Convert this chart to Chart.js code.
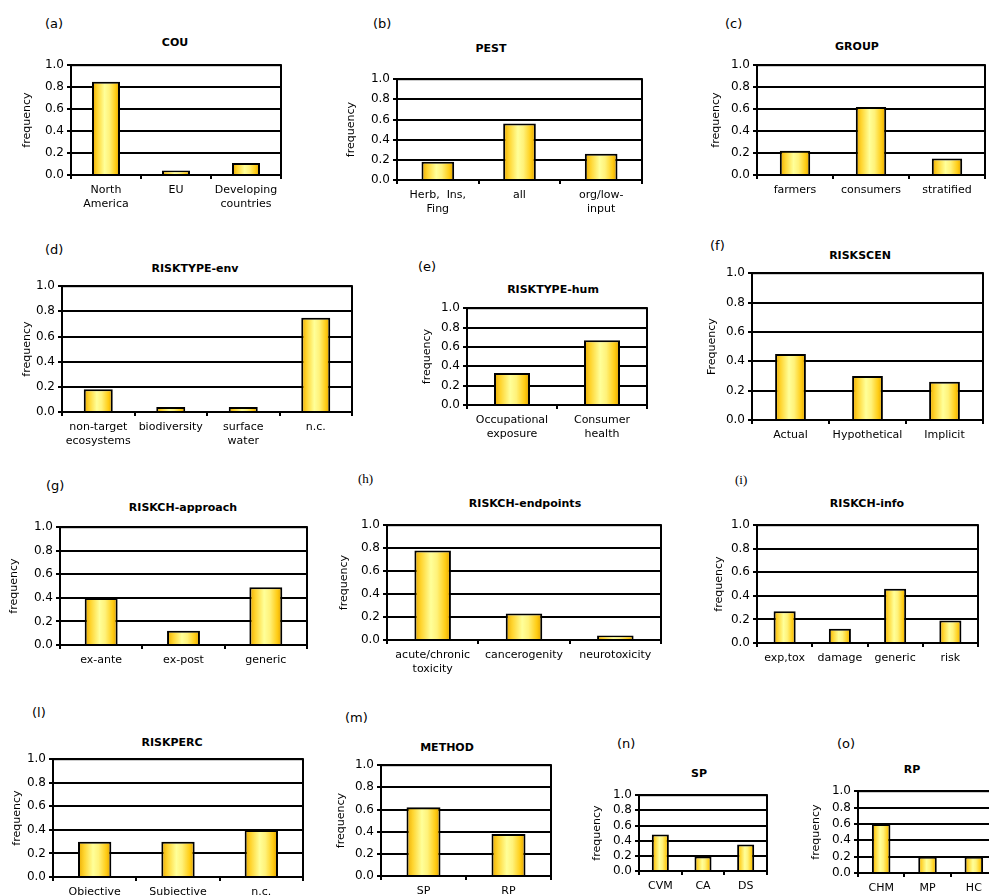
<!DOCTYPE html>
<html>
<head>
<meta charset="utf-8">
<script src="https://cdn.jsdelivr.net/npm/chart.js@4.4.1/dist/chart.umd.min.js"></script>
<style>
  html, body { margin: 0; padding: 0; background: #fff; overflow: hidden; width: 989px; height: 895px; }
  #page { position: relative; width: 989px; height: 895px; overflow: hidden; }
  #page canvas { position: absolute; }
  .tag { position: absolute; font: 13px "DejaVu Sans", Verdana, sans-serif; color: #000; line-height: 1; transform: translateY(-50%); white-space: nowrap; }
  .tag.serif { font: 13px "Liberation Serif", "DejaVu Serif", serif; color: #000; }
  .ttl { position: absolute; font: bold 11px "DejaVu Sans", Verdana, sans-serif; color: #000; line-height: 1; transform: translate(-50%, -50%); white-space: nowrap; }
</style>
</head>
<body>
<div id="page"></div>
<script>
// ---- data (frequencies) ----
const couLabels = [['North', 'America'], 'EU', ['Developing', 'countries']];
const couValues = [0.85, 0.04, 0.11];

const pestLabels = [['Herb,  Ins,', 'Fing'], 'all', ['org/low-', 'input']];
const pestValues = [0.18, 0.56, 0.26];

const groupLabels = ['farmers', 'consumers', 'stratified'];
const groupValues = [0.22, 0.62, 0.15];

const envLabels = [['non-target', 'ecosystems'], 'biodiversity', ['surface', 'water'], 'n.c.'];
const envValues = [0.18, 0.04, 0.04, 0.75];

const humLabels = [['Occupational', 'exposure'], ['Consumer', 'health']];
const humValues = [0.33, 0.67];

const scenLabels = ['Actual', 'Hypothetical', 'Implicit'];
const scenValues = [0.45, 0.30, 0.26];

const approachLabels = ['ex-ante', 'ex-post', 'generic'];
const approachValues = [0.40, 0.12, 0.49];

const endpointLabels = [['acute/chronic', 'toxicity'], 'cancerogenity', 'neurotoxicity'];
const endpointValues = [0.78, 0.23, 0.04];

const infoLabels = ['exp,tox', 'damage', 'generic', 'risk'];
const infoValues = [0.27, 0.12, 0.46, 0.19];

const percLabels = ['Objective', 'Subjective', 'n.c.'];
const percValues = [0.30, 0.30, 0.40];

const methodLabels = ['SP', 'RP'];
const methodValues = [0.62, 0.38];

const spLabels = ['CVM', 'CA', 'DS'];
const spValues = [0.48, 0.19, 0.35];

const rpLabels = ['CHM', 'MP', 'HC'];
const rpValues = [0.60, 0.20, 0.20];

const yTicks = [0, 0.2, 0.4, 0.6, 0.8, 1.0];

// ---- layout: tag/title anchors, plot box (L,R,T,B) and y-title x ----
const panels = [
  { tag: '(a)', tx: 45,  ty: 23,  title: 'COU',              cx: 175, cy: 42,  L: 71,  R: 281, T: 65,  B: 175, fx: 28,  ylab: 'frequency', labels: couLabels,      values: couValues },
  { tag: '(b)', tx: 373, ty: 23,  title: 'PEST',             cx: 491, cy: 48,  L: 397, R: 642, T: 79,  B: 180, fx: 352, ylab: 'frequency', labels: pestLabels,     values: pestValues },
  { tag: '(c)', tx: 725, ty: 23,  title: 'GROUP',            cx: 857, cy: 46,  L: 757, R: 985, T: 65,  B: 175, fx: 717, ylab: 'frequency', labels: groupLabels,    values: groupValues },
  { tag: '(d)', tx: 45,  ty: 249, title: 'RISKTYPE-env',     cx: 195, cy: 268, L: 62,  R: 352, T: 286, B: 412, fx: 28,  ylab: 'frequency', labels: envLabels,      values: envValues },
  { tag: '(e)', tx: 418, ty: 266, title: 'RISKTYPE-hum',     cx: 553, cy: 289, L: 467, R: 647, T: 308, B: 405, fx: 428, ylab: 'frequency', labels: humLabels,      values: humValues },
  { tag: '(f)', tx: 710, ty: 245, title: 'RISKSCEN',         cx: 860, cy: 255, L: 752, R: 983, T: 273, B: 420, fx: 713, ylab: 'Frequency', labels: scenLabels,     values: scenValues },
  { tag: '(g)', tx: 46,  ty: 485, title: 'RISKCH-approach',  cx: 183, cy: 507, L: 60,  R: 307, T: 527, B: 645, fx: 15,  ylab: 'frequency', labels: approachLabels, values: approachValues },
  { tag: '(h)', tx: 358, ty: 479, title: 'RISKCH-endpoints', cx: 525, cy: 503, L: 387, R: 661, T: 525, B: 640, fx: 345, ylab: 'frequency', labels: endpointLabels, values: endpointValues, serif: true },
  { tag: '(i)', tx: 735, ty: 480, title: 'RISKCH-info',      cx: 867, cy: 503, L: 757, R: 978, T: 525, B: 643, fx: 720, ylab: 'frequency', labels: infoLabels,     values: infoValues, serif: true },
  { tag: '(l)', tx: 32,  ty: 712, title: 'RISKPERC',         cx: 172, cy: 742, L: 53,  R: 303, T: 759, B: 877, fx: 18,  ylab: 'frequency', labels: percLabels,     values: percValues },
  { tag: '(m)', tx: 345, ty: 717, title: 'METHOD',           cx: 447, cy: 747, L: 381, R: 551, T: 765, B: 876, fx: 342, ylab: 'frequency', labels: methodLabels,   values: methodValues },
  { tag: '(n)', tx: 617, ty: 743, title: 'SP',               cx: 699, cy: 773, L: 639, R: 767, T: 795, B: 871, fx: 598, ylab: 'frequency', labels: spLabels,       values: spValues },
  { tag: '(o)', tx: 837, ty: 743, title: 'RP',               cx: 912, cy: 769, L: 858, R: 997, T: 791, B: 873, fx: 817, ylab: 'frequency', labels: rpLabels,       values: rpValues },
];

Chart.defaults.font.family = '"DejaVu Sans", Verdana, sans-serif';
Chart.defaults.color = '#000';

const BAR_PCT = 0.4;
const PAD_TOP = 10, PAD_RIGHT = 4, X_AXIS_H = 40;

// excel-like horizontal gold gradient on each bar
function barFill(ctx) {
  const chart = ctx.chart;
  const xs = chart.scales && chart.scales.x;
  if (!xs || ctx.dataIndex === undefined) return '#FFE14D';
  const cx = xs.getPixelForValue(ctx.dataIndex);
  const half = (xs.width / chart.data.labels.length) * BAR_PCT / 2;
  if (!isFinite(cx) || !isFinite(half) || half <= 0) return '#FFE14D';
  const g = chart.ctx.createLinearGradient(cx - half, 0, cx + half, 0);
  g.addColorStop(0, '#E9AA00');
  g.addColorStop(0.18, '#FFD42E');
  g.addColorStop(0.45, '#FFFF99');
  g.addColorStop(0.62, '#FFF27A');
  g.addColorStop(0.85, '#FFCC14');
  g.addColorStop(1, '#DE9F00');
  return g;
}

const framePlugin = {
  id: 'frame',
  afterDatasetsDraw(chart) {
    const { ctx, chartArea: a } = chart;
    ctx.save();
    ctx.strokeStyle = '#000';
    ctx.lineWidth = 2;
    ctx.strokeRect(a.left, a.top, a.right - a.left, a.bottom - a.top);
    ctx.restore();
  }
};

const page = document.getElementById('page');

panels.forEach(p => {
  const tag = document.createElement('div');
  tag.className = 'tag' + (p.serif ? ' serif' : '');
  tag.textContent = p.tag;
  tag.style.left = p.tx + 'px';
  tag.style.top = p.ty + 'px';
  page.appendChild(tag);

  const ttl = document.createElement('div');
  ttl.className = 'ttl';
  ttl.textContent = p.title;
  ttl.style.left = p.cx + 'px';
  ttl.style.top = p.cy + 'px';
  page.appendChild(ttl);

  const left = Math.round(p.fx - 6.6);
  const yW = p.L - left;
  const w = yW + (p.R - p.L) + PAD_RIGHT;
  const h = PAD_TOP + (p.B - p.T) + X_AXIS_H;

  const cv = document.createElement('canvas');
  cv.width = w;
  cv.height = h;
  cv.style.left = left + 'px';
  cv.style.top = (p.T - PAD_TOP) + 'px';
  cv.style.width = w + 'px';
  cv.style.height = h + 'px';
  page.appendChild(cv);

  new Chart(cv, {
    type: 'bar',
    data: {
      labels: p.labels,
      datasets: [{
        data: p.values,
        backgroundColor: barFill,
        borderColor: '#000',
        borderWidth: 2,
        barPercentage: BAR_PCT,
        categoryPercentage: 1,
      }],
    },
    options: {
      responsive: false,
      animation: false,
      events: [],
      layout: { padding: { top: PAD_TOP, right: PAD_RIGHT, left: 0, bottom: 0 } },
      plugins: { legend: { display: false }, tooltip: { enabled: false } },
      scales: {
        x: {
          grid: { display: true, drawOnChartArea: false, drawTicks: true, tickLength: 4, color: '#000', lineWidth: 2, offset: true },
          border: { display: true, color: '#000', width: 2 },
          ticks: { color: '#000', font: { size: 11 }, padding: 5, maxRotation: 0, minRotation: 0, autoSkip: false },
          afterFit: s => { s.height = X_AXIS_H; },
        },
        y: {
          min: 0,
          max: 1,
          afterBuildTicks: s => { s.ticks = yTicks.map(v => ({ value: v })); },
          grid: { color: '#000', lineWidth: 2, tickLength: 4, drawTicks: true },
          border: { display: true, color: '#000', width: 2 },
          ticks: { color: '#000', font: { size: 12 }, padding: 3, autoSkip: false, callback: v => Number(v).toFixed(1) },
          title: { display: true, text: p.ylab, color: '#000', font: { size: 11 }, padding: 0 },
          afterFit: s => { s.width = yW; },
        },
      },
    },
    plugins: [framePlugin],
  });
});
</script>
</body>
</html>
